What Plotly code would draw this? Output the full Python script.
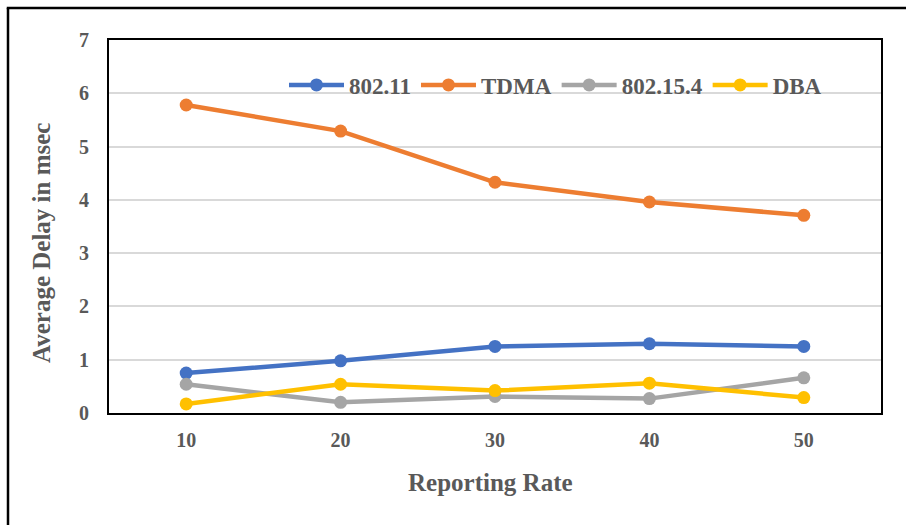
import plotly.graph_objects as go

rates = ["10", "20", "30", "40", "50"]
s_80211 = [0.75, 0.98, 1.25, 1.30, 1.25]
s_tdma = [5.78, 5.29, 4.33, 3.96, 3.71]
s_802154 = [0.54, 0.20, 0.31, 0.27, 0.66]
s_dba = [0.17, 0.54, 0.42, 0.56, 0.29]
series_names = ["802.11", "TDMA", "802.15.4", "DBA"]
colors = ["#4472C4", "#ED7D31", "#A5A5A5", "#FFC000"]
yticks = [0, 1, 2, 3, 4, 5, 6, 7]

FONT = "Liberation Serif"
GREY = "#595959"

fig = go.Figure()
for name, vals, col in zip(series_names, [s_80211, s_tdma, s_802154, s_dba], colors):
    fig.add_trace(go.Scatter(
        x=rates, y=vals, name=name, mode="lines+markers",
        line=dict(color=col, width=4.5),
        marker=dict(color=col, size=13),
    ))

W, H = 906, 525
L, R, T, B = 109, 25, 40, 112
pw, ph = W - L - R, H - T - B

def px2paper_x(x):
    return (x - L) / pw

def px2paper_y(y):
    return (H - B - y) / ph

fig.update_layout(
    width=W, height=H,
    margin=dict(l=L, r=R, t=T, b=B),
    paper_bgcolor="white", plot_bgcolor="white",
    font=dict(family=FONT, color=GREY, size=20, weight="bold"),
    showlegend=True,
    legend=dict(
        orientation="h", x=px2paper_x(284), xanchor="left",
        y=px2paper_y(85), yanchor="middle",
        font=dict(family=FONT, size=23, color=GREY, weight="bold"),
        bgcolor="rgba(0,0,0,0)", itemwidth=55, tracegroupgap=0,
    ),
    xaxis=dict(
        type="category", range=[-0.5, 4.5], showgrid=False,
        showline=True, linecolor="black", linewidth=2, mirror=True,
        ticks="", ticklabelstandoff=8,
        tickfont=dict(family=FONT, size=20, color=GREY, weight="bold"),
        zeroline=False,
    ),
    yaxis=dict(
        range=[0, 7], tickvals=yticks, showgrid=True,
        gridcolor="#D9D9D9", gridwidth=1.5,
        showline=True, linecolor="black", linewidth=2, mirror=True,
        ticks="", ticklabelstandoff=14,
        tickfont=dict(family=FONT, size=20, color=GREY, weight="bold"),
        zeroline=False,
    ),
    annotations=[
        dict(text="Average Delay in msec", xref="paper", yref="paper",
             x=px2paper_x(42), y=px2paper_y(243), textangle=-90,
             showarrow=False, xanchor="center", yanchor="middle",
             font=dict(family=FONT, size=25, color=GREY, weight="bold")),
        dict(text="Reporting Rate", xref="paper", yref="paper",
             x=px2paper_x(490), y=px2paper_y(483),
             showarrow=False, xanchor="center", yanchor="middle",
             font=dict(family=FONT, size=25, color=GREY, weight="bold")),
    ],
    shapes=[
        dict(type="line", xref="paper", yref="paper",
             x0=px2paper_x(8), x1=px2paper_x(8), y0=px2paper_y(540), y1=px2paper_y(8),
             line=dict(color="black", width=2.5)),
        dict(type="line", xref="paper", yref="paper",
             x0=px2paper_x(6.75), x1=px2paper_x(920), y0=px2paper_y(8), y1=px2paper_y(8),
             line=dict(color="black", width=2.5)),
    ],
)

fig.write_html("out.html", config={"displayModeBar": False},
               post_script="document.body.style.margin='0';document.body.style.overflow='hidden';")
